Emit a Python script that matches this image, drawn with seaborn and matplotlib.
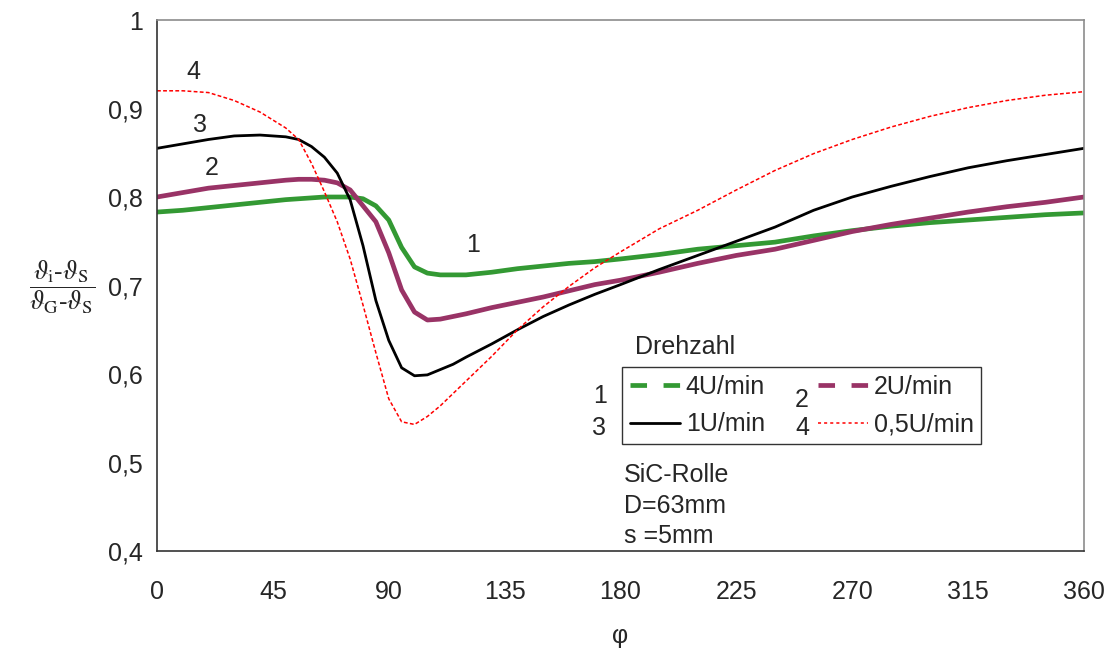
import matplotlib
matplotlib.use("Agg")
import matplotlib.pyplot as plt
from matplotlib.lines import Line2D
import numpy as np
import pandas as pd
import seaborn as sns

# ---------------- data ----------------
phi = [0, 10, 20, 30, 40, 50, 55, 60, 65, 70, 75, 80, 85, 90, 95, 100, 105, 110,
       115, 120, 130, 140, 150, 160, 170, 180, 195, 210, 225, 240, 255, 270, 285,
       300, 315, 330, 345, 360]

# curve 1: 4 U/min
v_4U = [0.783, 0.785, 0.788, 0.791, 0.794, 0.797, 0.798, 0.799, 0.800, 0.800,
        0.800, 0.798, 0.790, 0.774, 0.743, 0.721, 0.714, 0.712, 0.712, 0.712,
        0.715, 0.719, 0.722, 0.725, 0.727, 0.730, 0.735, 0.741, 0.745, 0.749,
        0.756, 0.762, 0.767, 0.771, 0.774, 0.777, 0.780, 0.782]
# curve 2: 2 U/min
v_2U = [0.800, 0.805, 0.810, 0.813, 0.816, 0.819, 0.820, 0.820, 0.819, 0.816,
        0.808, 0.790, 0.772, 0.737, 0.695, 0.670, 0.661, 0.662, 0.665, 0.668,
        0.675, 0.681, 0.687, 0.694, 0.701, 0.706, 0.715, 0.725, 0.734, 0.741,
        0.751, 0.761, 0.769, 0.776, 0.783, 0.789, 0.794, 0.800]
# curve 3: 1 U/min
v_1U = [0.855, 0.860, 0.865, 0.869, 0.870, 0.868, 0.865, 0.857, 0.845, 0.827,
        0.797, 0.745, 0.683, 0.638, 0.607, 0.598, 0.599, 0.605, 0.611, 0.619,
        0.634, 0.650, 0.665, 0.678, 0.690, 0.701, 0.718, 0.734, 0.750, 0.766,
        0.785, 0.800, 0.812, 0.823, 0.833, 0.841, 0.848, 0.855]
# curve 4: 0,5 U/min
v_05U = [0.920, 0.920, 0.918, 0.909, 0.896, 0.878, 0.865, 0.838, 0.806, 0.772,
         0.730, 0.678, 0.624, 0.572, 0.546, 0.543, 0.552, 0.564, 0.578, 0.592,
         0.620, 0.650, 0.676, 0.699, 0.720, 0.738, 0.764, 0.785, 0.808, 0.830,
         0.849, 0.865, 0.879, 0.891, 0.901, 0.909, 0.915, 0.919]

series_names = ["4U/min", "2U/min", "1U/min", "0,5U/min"]
curve_numbers = ["1", "2", "3", "4"]
x_ticks = [0, 45, 90, 135, 180, 225, 270, 315, 360]
y_ticks = [0.4, 0.5, 0.6, 0.7, 0.8, 0.9, 1.0]
y_tick_labels = ["0,4", "0,5", "0,6", "0,7", "0,8", "0,9", "1"]

df = pd.DataFrame({
    "phi": phi * 4,
    "value": v_4U + v_2U + v_1U + v_05U,
    "serie": sum([[n] * len(phi) for n in series_names], []),
})

# ---------------- styling ----------------
sns.set_style("white")
plt.rcParams["font.family"] = ["Liberation Sans", "DejaVu Sans"]
plt.rcParams["mathtext.fontset"] = "stix"
FS = 18

colors = {"4U/min": "#339933", "2U/min": "#993366", "1U/min": "#000000", "0,5U/min": "#ff0000"}
widths = {"4U/min": 3.4, "2U/min": 3.4, "1U/min": 2.0, "0,5U/min": 1.1}
styles = {"4U/min": "-", "2U/min": "-", "1U/min": "-", "0,5U/min": (0, (2.5, 1.5))}

fig = plt.figure(figsize=(11.14, 6.48), dpi=100)
ax = fig.add_axes([157 / 1114, 1 - 551 / 648, 927 / 1114, 531 / 648])

for name in ["4U/min", "2U/min", "1U/min", "0,5U/min"]:
    sub = df[df["serie"] == name]
    sns.lineplot(data=sub, x="phi", y="value", ax=ax, color=colors[name],
                 linewidth=widths[name], linestyle=styles[name],
                 estimator=None, sort=False, legend=False)

ax.set_xlim(0, 360)
ax.set_ylim(0.4, 1.0)
ax.set_xticks(x_ticks)
ax.set_xticklabels([str(t) for t in x_ticks])
ax.set_yticks(y_ticks)
ax.set_yticklabels(y_tick_labels)
ax.tick_params(axis="x", direction="in", length=7, width=1, color="#333333",
               labelsize=FS, pad=21)
ax.tick_params(axis="y", direction="in", length=7, width=1, color="#333333",
               labelsize=FS, pad=10)
for s in ["left", "bottom"]:
    ax.spines[s].set_color("#333333")
    ax.spines[s].set_linewidth(1.2)
for s in ["top", "right"]:
    ax.spines[s].set_color("#8c8c8c")
    ax.spines[s].set_linewidth(1.2)

ax.set_xlabel("φ", fontsize=FS, labelpad=14)
ax.set_ylabel("")

# y label as fraction
fig.text(62 / 1114, 1 - 287 / 648,
         r"$\dfrac{\vartheta_{\mathrm{i}}\text{-}\vartheta_{\mathrm{S}}}{\vartheta_{\mathrm{G}}\text{-}\vartheta_{\mathrm{S}}}$",
         fontsize=19, ha="center", va="center")

# curve numbers on the chart
ax.text(14, 0.941, curve_numbers[3], fontsize=FS, ha="center", va="center")
ax.text(16.7, 0.881, curve_numbers[2], fontsize=FS, ha="center", va="center")
ax.text(21.4, 0.833, curve_numbers[1], fontsize=FS, ha="center", va="center")
ax.text(122.7, 0.746, curve_numbers[0], fontsize=FS, ha="center", va="center")

# legend
handles = [
    Line2D([], [], color=colors["4U/min"], lw=3.4, ls=(0, (3.5, 3.5))),
    Line2D([], [], color=colors["1U/min"], lw=2.0, ls="-"),
    Line2D([], [], color=colors["2U/min"], lw=3.4, ls=(0, (3.5, 3.5))),
    Line2D([], [], color=colors["0,5U/min"], lw=1.1, ls=(0, (2, 2))),
]
labels = ["4U/min", "1U/min", "2U/min", "0,5U/min"]
leg = ax.legend(handles, labels, ncol=2, loc="upper left",
                bbox_to_anchor=((622 - 157) / 927, (551 - 367) / 531),
                frameon=True, fancybox=False, edgecolor="#333333", framealpha=1,
                handlelength=2.0, handletextpad=0.25, columnspacing=2.1,
                borderpad=0.3, labelspacing=0.55, fontsize=FS, borderaxespad=0)
leg.get_frame().set_linewidth(1.0)

ax.text(185.6, 0.631, "Drehzahl", fontsize=FS, ha="left", va="center")
ax.text(172, 0.575, curve_numbers[0], fontsize=FS, ha="center", va="center", zorder=10)
ax.text(171.7, 0.539, curve_numbers[2], fontsize=FS, ha="center", va="center", zorder=10)
ax.text(250.5, 0.571, curve_numbers[1], fontsize=FS, ha="center", va="center", zorder=10)
ax.text(250.5, 0.539, curve_numbers[3], fontsize=FS, ha="center", va="center", zorder=10)

ax.text(181.4, 0.486, "SiC-Rolle", fontsize=FS, ha="left", va="center")
ax.text(181.4, 0.451, "D=63mm", fontsize=FS, ha="left", va="center")
ax.text(181.4, 0.417, "s =5mm", fontsize=FS, ha="left", va="center")

fig.savefig("out.png", dpi=100)
